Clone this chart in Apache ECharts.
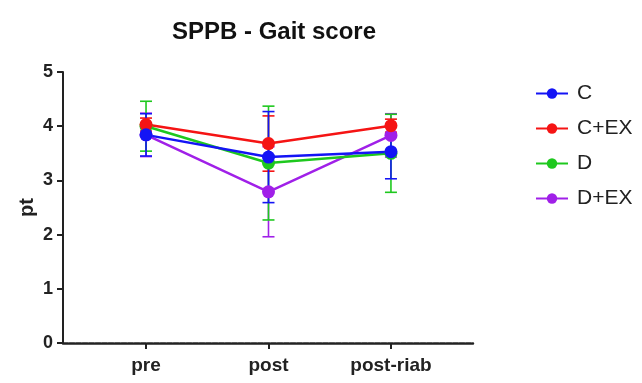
<!DOCTYPE html>
<html>
<head>
<meta charset="utf-8">
<script src="https://cdn.jsdelivr.net/npm/echarts@6/dist/echarts.min.js"></script>
<style>
  html, body { margin: 0; padding: 0; background: #fff; }
  #chart { width: 642px; height: 383px; }
</style>
</head>
<body>
<div id="chart"></div>
<script>
  const categories = ['pre', 'post', 'post-riab']
  const groups = ['C', 'C+EX', 'D', 'D+EX']
  const colors = ['#1414f5', '#f51414', '#1ec81e', '#a020e8']
  // mean and SD per group
  const meanC = [3.84, 3.43, 3.53]
  const sdC = [0.39, 0.84, 0.5]
  const meanCEX = [4.03, 3.68, 4.01]
  const sdCEX = [0.12, 0.51, 0.12]
  const meanD = [4.0, 3.32, 3.5]
  const sdD = [0.46, 1.05, 0.72]
  const meanDEX = [3.84, 2.79, 3.83]
  const sdDEX = [0.4, 0.83, 0.4]
  const yTicks = [0, 1, 2, 3, 4, 5]

  const means = [meanC, meanCEX, meanD, meanDEX]
  const sds = [sdC, sdCEX, sdD, sdDEX]

  const chart = echarts.init(document.getElementById('chart'))

  const series = []
  // draw D+EX first so C sits on top
  for (let g = groups.length - 1; g >= 0; g--) {
    const errData = means[g].map((m, i) => [i, m - sds[g][i], m + sds[g][i]])
    series.push({
      name: groups[g] + ' sd',
      type: 'custom',
      z: 2,
      silent: true,
      data: errData,
      renderItem (params, api) {
        const lo = api.coord([api.value(0), api.value(1)])
        const hi = api.coord([api.value(0), api.value(2)])
        const half = 6
        const style = { stroke: colors[g], lineWidth: 1.6, fill: null }
        return {
          type: 'group',
          children: [
            { type: 'line', shape: { x1: lo[0], y1: lo[1], x2: hi[0], y2: hi[1] }, style },
            { type: 'line', shape: { x1: hi[0] - half, y1: hi[1], x2: hi[0] + half, y2: hi[1] }, style },
            { type: 'line', shape: { x1: lo[0] - half, y1: lo[1], x2: lo[0] + half, y2: lo[1] }, style },
          ],
        }
      },
    })
    series.push({
      name: groups[g],
      type: 'line',
      z: 3,
      data: means[g].map((m, i) => [i, m]),
      symbol: 'circle',
      symbolSize: 13,
      color: colors[g],
      lineStyle: { width: 2.5, color: colors[g] },
      itemStyle: { color: colors[g] },
    })
  }

  const option = {
    backgroundColor: '#fff',
    animation: false,
    title: {
      text: 'SPPB - Gait score',
      left: 269,
      top: 15,
      textAlign: 'center',
      textStyle: { fontFamily: 'Liberation Sans', fontWeight: 'bold', fontSize: 24, color: '#111' },
    },
    legend: {
      data: groups,
      orient: 'vertical',
      left: 530,
      top: 78,
      itemWidth: 32,
      itemHeight: 13,
      itemGap: 14,
      textStyle: { fontFamily: 'Liberation Sans', fontSize: 21, color: '#222', padding: [0, 0, 0, 4] },
    },
    grid: { left: 63, top: 72, right: 169, bottom: 40 },
    xAxis: {
      type: 'value',
      min: -0.678,
      max: 2.67,
      splitLine: { show: false },
      axisLine: { lineStyle: { color: '#222', width: 2.5, type: [5, 1.5] } },
      axisTick: { customValues: [0, 1, 2], length: 6, lineStyle: { color: '#222', width: 2 } },
      axisLabel: {
        customValues: [0, 1, 2],
        formatter: v => categories[Math.round(v)],
        margin: 13,
        fontFamily: 'Liberation Sans',
        fontWeight: 'bold',
        fontSize: 19,
        color: '#222',
      },
    },
    yAxis: {
      type: 'value',
      min: 0,
      max: 5,
      interval: 1,
      name: 'pt',
      nameLocation: 'middle',
      nameGap: 26,
      nameMoveOverlap: false,
      nameTextStyle: { fontFamily: 'Liberation Sans', fontWeight: 'bold', fontSize: 20, color: '#222' },
      splitLine: { show: false },
      axisLine: { show: true, onZero: false, lineStyle: { color: '#222', width: 2 } },
      axisTick: { show: true, length: 6, lineStyle: { color: '#222', width: 2 } },
      axisLabel: {
        formatter: v => (yTicks.includes(v) ? String(v) : ''),
        margin: 10,
        fontFamily: 'Liberation Sans',
        fontWeight: 'bold',
        fontSize: 18,
        color: '#222',
      },
    },
    series,
  }
  chart.setOption(option)
</script>
</body>
</html>
